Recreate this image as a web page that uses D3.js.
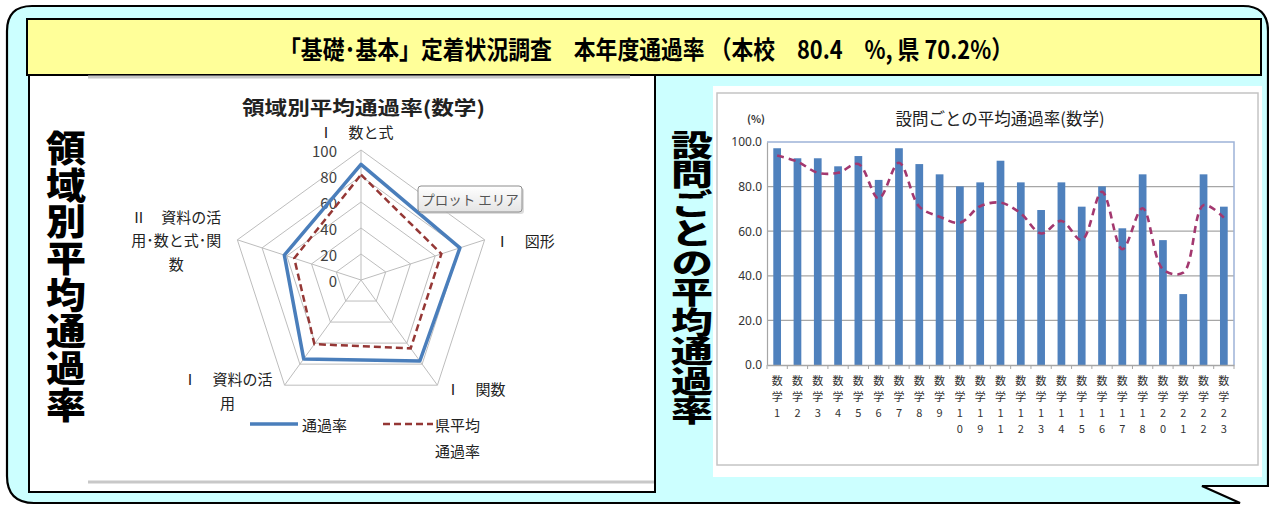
<!DOCTYPE html>
<html><head><meta charset="utf-8">
<script src="https://cdn.jsdelivr.net/npm/d3@7"></script>
<style>
body{margin:0;background:#fff}
svg{display:block}
text{font-family:"Noto Sans CJK JP","Noto Sans",sans-serif}
</style>
</head><body>
<svg id="c" width="1269" height="506"></svg>
<script>
// ---------- data ----------
const mainTitle = "「基礎･基本」定着状況調査　本年度通過率 （本校　80.4　%, 県 70.2%）";
const sideLeft = "領域別平均通過率";
const sideRight = "設問ごとの平均通過率";

const radarTitle = "領域別平均通過率(数学)";
const radarAxes = [["Ⅰ　数と式"], ["Ⅰ　図形"], ["Ⅰ　関数"], ["Ⅰ　資料の活", "用"], ["Ⅱ　資料の活", "用･数と式･関", "数"]];
const radarSchool = [89, 80, 77, 75, 62];
const radarPref = [81, 65, 65, 61, 54];
const radarTicks = [0, 20, 40, 60, 80, 100];
const legendSchool = ["通過率"];
const legendPref = ["県平均", "通過率"];
const tooltipText = "プロット エリア";

const barTitle = "設問ごとの平均通過率(数学)";
const yUnit = "(%)";
const questions = ["数学1","数学2","数学3","数学4","数学5","数学6","数学7","数学8","数学9","数学10","数学19","数学11","数学12","数学13","数学14","数学15","数学16","数学17","数学18","数学20","数学21","数学22","数学23"];
const schoolRates = [97.2, 92.7, 92.7, 89.1, 93.7, 83.0, 97.2, 90.1, 85.5, 80.1, 81.9, 91.6, 81.9, 69.5, 81.9, 71.0, 80.1, 61.3, 85.5, 56.0, 31.8, 85.5, 71.0];
const prefRates = [93.9, 91.2, 86.2, 86.2, 90.1, 74.7, 90.7, 71.0, 66.5, 63.8, 71.2, 72.8, 68.0, 59.0, 64.6, 56.0, 77.7, 51.9, 70.3, 42.9, 41.4, 71.7, 66.1];
const yTicks = [0, 20, 40, 60, 80, 100];

// ---------- frame ----------
const svg = d3.select("#c");
svg.append("path")
  .attr("d", "M7,31 Q7,6 32,6 L1243,6 Q1268,6 1268,31 L1268,486 L1202,486 L1240,503 L34,503 Q7,503 7,476 Z")
  .attr("fill", "#ccffff").attr("stroke", "#000").attr("stroke-width", 2.2);

svg.append("rect").attr("x", 27).attr("y", 19).attr("width", 1234).attr("height", 56)
  .attr("fill", "#ffff99").attr("stroke", "#000").attr("stroke-width", 2);
svg.append("text").attr("x", 279).attr("y", 48)
  .attr("dominant-baseline", "central")
  .attr("textLength", 734).attr("lengthAdjust", "spacingAndGlyphs")
  .attr("font-size", 25).attr("font-weight", 700).attr("fill", "#000")
  .text(mainTitle);

// left panel
svg.append("rect").attr("x", 29).attr("y", 75).attr("width", 626).attr("height", 417)
  .attr("fill", "#fff").attr("stroke", "#000").attr("stroke-width", 2);
svg.append("line").attr("x1", 88).attr("x2", 630).attr("y1", 77).attr("y2", 77)
  .attr("stroke", "#c8c8c8").attr("stroke-width", 3);
svg.append("line").attr("x1", 88).attr("x2", 654).attr("y1", 482).attr("y2", 482)
  .attr("stroke", "#c8c8c8").attr("stroke-width", 3);

// right panel
svg.append("rect").attr("x", 713).attr("y", 86).attr("width", 549).attr("height", 391).attr("fill", "#fff");
svg.append("rect").attr("x", 717).attr("y", 93).attr("width", 541).attr("height", 372)
  .attr("fill", "#fff").attr("stroke", "#c4c4c4").attr("stroke-width", 1.5);

// side vertical texts (single text element, vertical writing mode)
function verticalText(str, cx, top, total, fs) {
  const natural = fs * Array.from(str).length;
  const sy = total / natural;
  svg.append("text")
    .attr("transform", `translate(${cx},${top}) scale(1,${sy})`)
    .style("writing-mode", "vertical-rl")
    .attr("x", 0).attr("y", 0)
    .attr("font-size", fs).attr("font-weight", 900).attr("fill", "#000")
    .text(str);
}
verticalText(sideLeft, 66, 130, 293, 40);
verticalText(sideRight, 692, 130, 295, 42);

// ---------- radar ----------
const cx = 361, cy = 280;
const r = d3.scaleLinear().domain([0, 100]).range([0, 130]);
const ang = d3.scalePoint().domain(d3.range(radarAxes.length + 1)).range([0, 2 * Math.PI]);
const pt = (i, v) => [cx + r(v) * Math.sin(ang(i)), cy - r(v) * Math.cos(ang(i))];
const rg = svg.append("g");

radarTicks.filter(t => t > 0).forEach(t => {
  rg.append("path")
    .attr("d", d3.line()(radarAxes.map((_, i) => pt(i, t))) + "Z")
    .attr("fill", "none").attr("stroke", "#bdbdbd").attr("stroke-width", 1);
});
radarAxes.forEach((_, i) => {
  const [x, y] = pt(i, 100);
  rg.append("line").attr("x1", cx).attr("y1", cy).attr("x2", x).attr("y2", y)
    .attr("stroke", "#bdbdbd").attr("stroke-width", 1);
});
radarTicks.forEach(t => {
  rg.append("text").attr("x", cx - 24).attr("y", cy - r(t))
    .attr("text-anchor", "end").attr("dominant-baseline", "central")
    .attr("font-size", 15).attr("fill", "#404040").text(t);
});

const radial = d3.lineRadial().angle((d, i) => ang(i)).radius(d => r(d)).curve(d3.curveLinearClosed);
rg.append("path").attr("transform", `translate(${cx},${cy})`).attr("d", radial(radarSchool))
  .attr("fill", "none").attr("stroke", "#4a7ebb").attr("stroke-width", 3.5).attr("stroke-linejoin", "round");
rg.append("path").attr("transform", `translate(${cx},${cy})`).attr("d", radial(radarPref))
  .attr("fill", "none").attr("stroke", "#953735").attr("stroke-width", 2.5).attr("stroke-dasharray", "7,4");

// axis labels
const labelPos = [
  {dx: -5, dy: -19, anchor: "middle"},
  {dx: 10, dy: 0, anchor: "start"},
  {dx: 8, dy: 3, anchor: "start"},
  {dx: -57, dy: -7, anchor: "middle"},
  {dx: -61, dy: -24, anchor: "middle"}
];
radarAxes.forEach((lines, i) => {
  const [x, y] = pt(i, 100);
  const p = labelPos[i];
  const t = rg.append("text").attr("x", x + p.dx).attr("y", y + p.dy)
    .attr("text-anchor", p.anchor).attr("dominant-baseline", "central")
    .attr("font-size", 15).attr("fill", "#222");
  lines.forEach((ln, j) => t.append("tspan").attr("x", x + p.dx).attr("dy", j === 0 ? 0 : 23.5).text(ln));
});

rg.append("text").attr("x", 242).attr("y", 106).attr("dominant-baseline", "central")
  .attr("textLength", 243).attr("lengthAdjust", "spacingAndGlyphs")
  .attr("font-size", 19).attr("font-weight", 700).attr("fill", "#222").text(radarTitle);

// tooltip
const defs = svg.append("defs");
const grad = defs.append("linearGradient").attr("id", "tip").attr("x1", 0).attr("x2", 0).attr("y1", 0).attr("y2", 1);
grad.append("stop").attr("offset", 0).attr("stop-color", "#ffffff");
grad.append("stop").attr("offset", 1).attr("stop-color", "#e4e4e4");
rg.append("rect").attr("x", 420).attr("y", 188).attr("width", 104).attr("height", 26).attr("rx", 3)
  .attr("fill", "#cfcfcf").attr("opacity", 0.7);
rg.append("rect").attr("x", 418).attr("y", 186).attr("width", 104).attr("height", 26).attr("rx", 3)
  .attr("fill", "url(#tip)").attr("stroke", "#8c8c8c");
rg.append("text").attr("x", 470).attr("y", 199).attr("text-anchor", "middle").attr("dominant-baseline", "central")
  .attr("font-size", 13.5).attr("fill", "#555").text(tooltipText);

// legend
rg.append("line").attr("x1", 250).attr("x2", 298).attr("y1", 424).attr("y2", 424)
  .attr("stroke", "#4a7ebb").attr("stroke-width", 3.5);
rg.append("text").attr("x", 302).attr("y", 424).attr("dominant-baseline", "central")
  .attr("font-size", 15).attr("fill", "#222").text(legendSchool[0]);
rg.append("line").attr("x1", 383).attr("x2", 433).attr("y1", 424).attr("y2", 424)
  .attr("stroke", "#953735").attr("stroke-width", 2.5).attr("stroke-dasharray", "7,4");
legendPref.forEach((s, j) => {
  rg.append("text").attr("x", 435).attr("y", 424 + j * 26).attr("dominant-baseline", "central")
    .attr("font-size", 15).attr("fill", "#222").text(s);
});

// ---------- bar chart ----------
const x = d3.scaleBand().domain(questions).range([767, 1234]).paddingInner(0.62).paddingOuter(0.31);
const xs = d3.scaleBand().domain(questions).range([767, 1234]);
const y = d3.scaleLinear().domain([0, 100]).range([365, 142]);
const bg = svg.append("g");

bg.selectAll(".grid").data(yTicks.filter(t => t > 0 && t < 100)).join("line")
  .attr("x1", 767).attr("x2", 1234).attr("y1", d => y(d)).attr("y2", d => y(d))
  .attr("stroke", "#a6a6a6").attr("stroke-width", 1.2);
bg.append("path").attr("d", `M767,${y(100)} L1234,${y(100)} L1234,${y(0)}`)
  .attr("fill", "none").attr("stroke", "#9db3d8").attr("stroke-width", 1.5);

const yAxis = bg.append("g").attr("transform", "translate(767,0)")
  .call(d3.axisLeft(y).tickValues(yTicks).tickFormat(d3.format(".1f")).tickSize(0).tickPadding(5));
yAxis.select(".domain").attr("stroke", "#a6a6a6").attr("stroke-width", 1.2);
yAxis.selectAll("text").attr("font-size", 12).attr("fill", "#333")
  .style("font-family", "'Noto Sans',sans-serif");

bg.selectAll(".bar").data(questions).join("rect")
  .attr("x", d => x(d)).attr("width", x.bandwidth())
  .attr("y", (d, i) => y(schoolRates[i])).attr("height", (d, i) => y(0) - y(schoolRates[i]))
  .attr("fill", "#4f81bd");

const xAxis = bg.append("g").attr("transform", `translate(0,${y(0)})`)
  .call(d3.axisBottom(xs).tickSize(0).tickFormat(""));
xAxis.select(".domain").attr("stroke", "#a6a6a6").attr("stroke-width", 1.5);
bg.selectAll(".xtick").data(questions.concat(["__end"])).join("line")
  .attr("x1", (d, i) => 767 + xs.step() * i).attr("x2", (d, i) => 767 + xs.step() * i)
  .attr("y1", y(0)).attr("y2", y(0) + 4).attr("stroke", "#a6a6a6");

// category labels: one character per line
const lineOffsets = [15, 31, 47, 63];
questions.forEach(q => {
  const cxq = xs(q) + xs.bandwidth() / 2;
  Array.from(q).forEach((ch, j) => {
    bg.append("text").attr("x", cxq).attr("y", y(0) + lineOffsets[j])
      .attr("text-anchor", "middle").attr("dominant-baseline", "central")
      .attr("font-size", 11).attr("fill", "#333").text(ch);
  });
});

bg.append("path")
  .attr("d", d3.line().x((d, i) => xs(questions[i]) + xs.bandwidth() / 2).y(d => y(d))
    .curve(d3.curveCatmullRom.alpha(0.5))(prefRates))
  .attr("fill", "none").attr("stroke", "#a3386f").attr("stroke-width", 2.6).attr("stroke-dasharray", "7,5");

bg.append("text").attr("x", 1000).attr("y", 118).attr("text-anchor", "middle").attr("dominant-baseline", "central")
  .attr("font-size", 16.5).attr("fill", "#222").text(barTitle);
bg.append("text").attr("x", 756).attr("y", 118).attr("text-anchor", "middle").attr("dominant-baseline", "central")
  .attr("font-size", 10.5).attr("font-weight", 700).attr("fill", "#333").text(yUnit);
</script>
</body></html>
